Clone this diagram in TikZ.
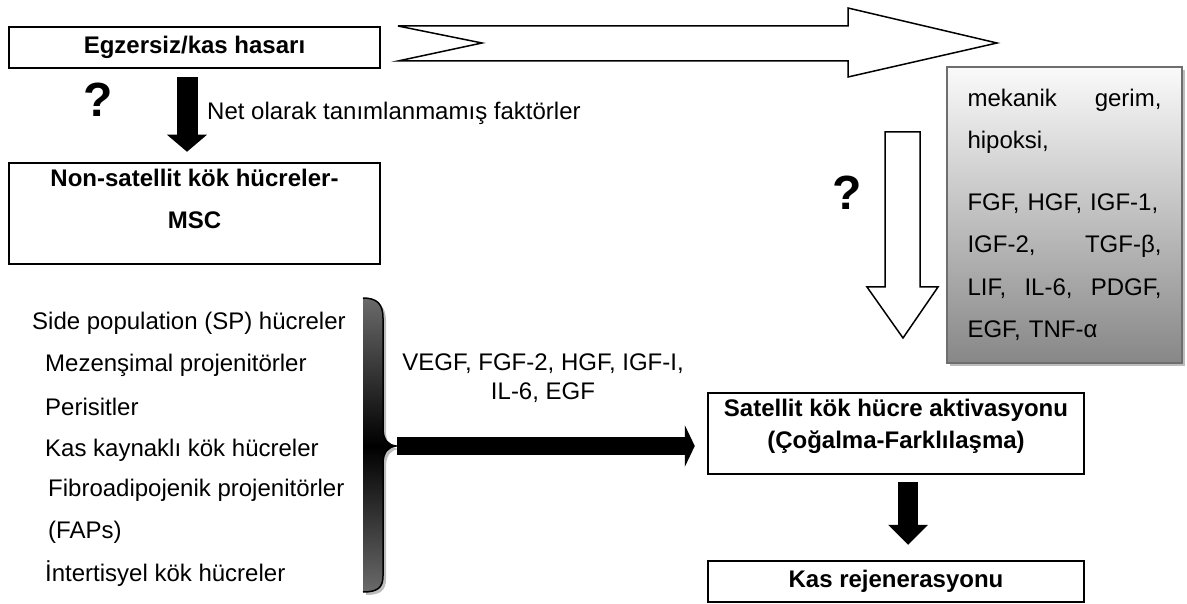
\documentclass[tikz,border=0pt]{standalone}
\usepackage{fontspec}
\setmainfont{Liberation Sans}
\usetikzlibrary{arrows.meta,calc,shadows,positioning}

\definecolor{kcerceve}{HTML}{6E6E6E}
\definecolor{kacik}{HTML}{FAFAFA}
\definecolor{kkoyu}{HTML}{878787}
\definecolor{kgolge}{HTML}{BDBDBD}
\definecolor{kparantez}{HTML}{6A6A6A}

\tikzset{
  kutu/.style={draw, line width=2.5pt, font=\fontsize{24}{28}\selectfont\bfseries,
    align=center, inner sep=0pt},
  yazi/.style={font=\fontsize{24}{28}\selectfont, inner sep=0pt,
    text height=17pt, text depth=5pt},
  soru/.style={font=\fontsize{48}{48}\selectfont\bfseries, inner sep=0pt},
  bosok/.style={draw, line width=1.5pt, fill=white, line join=miter},
}

\begin{document}
\begin{tikzpicture}[x=1pt,y=-1pt]
  \useasboundingbox (0,0) rectangle (1187,604);

  % 1. Kutular
  \node[kutu, minimum width=371pt, minimum height=41pt] (egz) at (194.5,47.5) {Egzersiz/kas hasarı};
  \node[kutu, minimum width=371pt, minimum height=101pt, text depth=29pt,
    font=\fontsize{24}{42}\selectfont\bfseries] (msc) at (194.5,213.5) {Non-satellit kök hücreler-\\MSC};
  \node[kutu, minimum width=376pt, minimum height=81pt, text depth=19pt,
    font=\fontsize{24}{32}\selectfont\bfseries] (sat) at (896,433.5) {Satellit kök hücre aktivasyonu\\(Çoğalma-Farklılaşma)};
  \node[kutu, minimum width=376pt, minimum height=41pt] (kas) at (896,581.5) {Kas rejenerasyonu};

  % 2. Gri etken kutusu
  \node[draw=kcerceve, line width=2pt, top color=kacik, bottom color=kkoyu,
    drop shadow={shadow xshift=3pt, shadow yshift=-3pt, fill=kgolge, opacity=1},
    minimum width=235pt, minimum height=296pt, text width=194pt, align=left,
    font=\fontsize{24}{42.5}\selectfont, inner sep=0pt] (etken) at (1064.5,215)
    {mekanik\hfill gerim,\\
     hipoksi,\\[19pt]
     FGF, HGF, IGF-1,\\
     IGF-2,\hfill TGF-β,\\
     LIF,\hfill IL-6,\hfill PDGF,\\
     EGF, TNF-α};

  % 3. Beyaz oklar
  \draw[bosok] (398,26) -- (848,26) -- (848,8) -- (997,43) -- (848,77) -- (848,61) -- (398,61) -- (482,43) -- cycle;
  \draw[bosok] (885,132) -- (920,132) -- (920,287) -- (938,287) -- (903,338) -- (867,287) -- (885,287) -- cycle;

  % 4. Soru isaretleri ve etiketler
  \node[soru] (soru1) at (98,100) {?};
  \node[soru] (soru2) at (847,193) {?};
  \node[yazi, anchor=west] (net) at (207,114) {Net olarak tanımlanmamış faktörler};
  \node[yazi, align=center, font=\fontsize{24}{29}\selectfont, text height=, text depth=] (vegf) at (543,378) {VEGF, FGF-2, HGF, IGF-I,\\IL-6, EGF};

  % 5. Hucre listesi
  \node[yazi, anchor=west] (sp)    at (32,324) {Side population (SP) hücreler};
  \node[yazi, anchor=west] (mez)   at (45,365) {Mezenşimal projenitörler};
  \node[yazi, anchor=west] (per)   at (45,409) {Perisitler};
  \node[yazi, anchor=west] (kkh)   at (45,450) {Kas kaynaklı kök hücreler};
  \node[yazi, anchor=west] (fib)   at (48,490) {Fibroadipojenik projenitörler};
  \node[yazi, anchor=west] (fap)   at (48,532) {(FAPs)};
  \node[yazi, anchor=west] (int)   at (45,575) {İntertisyel kök hücreler};

  % 6. Parantez (golge, dolgu, kontur)
  \fill[kgolge, shift={(3,3)}] (363,298) .. controls (377,298) and (383,304) .. (383,318) -- (383,428)
    .. controls (383,440) and (388,445) .. (396,446) .. controls (388,447) and (383,452) .. (383,464)
    -- (383,576) .. controls (383,588) and (377,592) .. (363,592) -- cycle;
  \shade[top color=kparantez, bottom color=black] (363,298) .. controls (377,298) and (383,304) .. (383,318)
    -- (383,428) .. controls (383,440) and (388,445) .. (396,446) -- (363,446) -- cycle;
  \shade[top color=black, bottom color=kparantez] (363,446) -- (396,446) .. controls (388,447) and (383,452) .. (383,464)
    -- (383,576) .. controls (383,588) and (377,592) .. (363,592) -- cycle;
  \draw[line width=1.5pt] (363,298) .. controls (377,298) and (383,304) .. (383,318) -- (383,428)
    .. controls (383,440) and (388,445) .. (396,446) .. controls (388,447) and (383,452) .. (383,464)
    -- (383,576) .. controls (383,588) and (377,592) .. (363,592);
  \coordinate (ucu) at (397,446);

  % 7. Siyah oklar
  \draw[line width=21pt, -{Triangle[length=17pt, width=40pt, line width=0pt]}]
    ($(egz.south)+(-7.5,8)$) -- ($(msc.north)+(-7.5,-10)$);
  \draw[line width=18pt, -{Triangle[length=10pt, width=42pt, line width=0pt]}]
    (ucu) -- ($(sat.west |- ucu)+(-12,0)$);
  \draw[line width=20pt, -{Triangle[length=20pt, width=40pt, line width=0pt]}]
    ($(sat.south)+(12,7)$) -- ($(kas.north)+(12,-15)$);
\end{tikzpicture}
\end{document}
